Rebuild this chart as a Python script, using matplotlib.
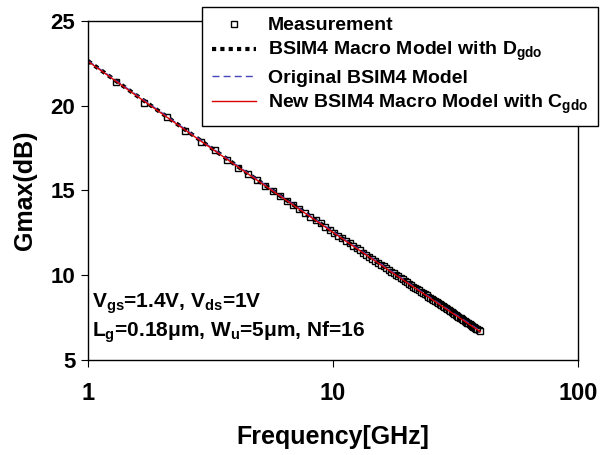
import numpy as np
import matplotlib
matplotlib.use('Agg')
import matplotlib.pyplot as plt

plt.rcParams['font.family'] = ['Liberation Sans', 'DejaVu Sans']
plt.rcParams['font.weight'] = 'bold'
plt.rcParams['mathtext.fontset'] = 'custom'
plt.rcParams['mathtext.rm'] = 'Liberation Sans:bold'
plt.rcParams['mathtext.it'] = 'Liberation Sans:bold'
plt.rcParams['mathtext.bf'] = 'Liberation Sans:bold'

# measured sweep (GHz) and Gmax (dB)
f_meas = [1.3, 1.7, 2.1, 2.5, 2.9, 3.3, 3.7, 4.1, 4.5, 4.9, 5.3, 5.7, 6.1, 6.5, 6.9,
          7.3, 7.7, 8.1, 8.5, 8.9, 9.3, 9.7, 10.1, 10.5, 10.9, 11.3, 11.7, 12.1, 12.5,
          12.9, 13.3, 13.7, 14.1, 14.5, 14.9, 15.3, 15.7, 16.1, 16.5, 16.9, 17.3, 17.7,
          18.1, 18.5, 18.9, 19.3, 19.7, 20.1, 20.5, 20.9, 21.3, 21.7, 22.1, 22.5, 22.9,
          23.3, 23.7, 24.1, 24.5, 24.9, 25.3, 25.7, 26.1, 26.5, 26.9, 27.3, 27.7, 28.1,
          28.5, 28.9, 29.3, 29.7, 30.1, 30.5, 30.9, 31.3, 31.7, 32.1, 32.5, 32.9, 33.3,
          33.7, 34.1, 34.5, 34.9, 35.3, 35.7, 36.1, 36.5, 36.9, 37.3, 37.7, 38.1, 38.5,
          38.9, 39.3, 39.7]
g_meas = [21.40, 20.18, 19.34, 18.50, 17.85, 17.36, 16.80, 16.35, 15.95, 15.60, 15.27,
          14.95, 14.66, 14.40, 14.13, 13.90, 13.66, 13.45, 13.24, 13.05, 12.85, 12.68,
          12.50, 12.34, 12.18, 12.03, 11.88, 11.73, 11.60, 11.46, 11.33, 11.20, 11.08,
          10.96, 10.85, 10.73, 10.62, 10.52, 10.41, 10.31, 10.21, 10.11, 10.02, 9.93,
          9.83, 9.75, 9.66, 9.57, 9.49, 9.41, 9.33, 9.25, 9.17, 9.10, 9.02, 8.95, 8.88,
          8.81, 8.74, 8.67, 8.60, 8.54, 8.47, 8.41, 8.34, 8.28, 8.22, 8.16, 8.10, 8.04,
          7.98, 7.93, 7.87, 7.81, 7.76, 7.71, 7.65, 7.60, 7.55, 7.50, 7.45, 7.40, 7.35,
          7.30, 7.25, 7.20, 7.15, 7.11, 7.06, 7.02, 6.97, 6.93, 6.88, 6.84, 6.80, 6.75,
          6.71]

# simulated curves
f_sim = [1, 1.5, 2, 3, 4, 5, 6, 8, 10, 12, 15, 20, 25, 30, 35, 40]
g_dgdo = [22.64, 20.83, 19.56, 17.77, 16.51, 15.54, 14.75, 13.51, 12.55, 11.77,
          10.82, 9.59, 8.65, 7.88, 7.24, 6.68]
g_orig = [22.66, 20.86, 19.59, 17.80, 16.54, 15.57, 14.78, 13.54, 12.58, 11.80,
          10.85, 9.62, 8.68, 7.91, 7.27, 6.71]
g_cgdo = [22.62, 20.81, 19.54, 17.75, 16.49, 15.52, 14.73, 13.49, 12.53, 11.75,
          10.80, 9.57, 8.63, 7.86, 7.22, 6.66]

labels = ['Measurement',
          r'BSIM4 Macro Model with D$_{\mathbf{gdo}}$',
          'Original BSIM4 Model',
          r'New BSIM4 Macro Model with C$_{\mathbf{gdo}}$']

fig = plt.figure(figsize=(6.02, 4.55), dpi=100)
ax = fig.add_axes([0.146, 0.209, 0.814, 0.745])

h0, = ax.plot(f_meas, g_meas, 's', mfc='white', mec='black', ms=5, mew=1.0,
              linestyle='none')
h1, = ax.plot(f_sim, g_dgdo, color='black', lw=3.0, linestyle=(0, (1, 1)))
h2, = ax.plot(f_sim, g_orig, color='#4444bb', lw=1.0, linestyle=(0, (5, 3)))
h3, = ax.plot(f_sim, g_cgdo, color='#dd0000', lw=1.0)

ax.set_xscale('log')
ax.set_xlim(1, 100)
ax.set_ylim(5, 25)
ax.set_xticks([1, 10, 100])
ax.set_xticklabels(['1', '10', '100'])
ax.xaxis.set_minor_locator(matplotlib.ticker.NullLocator())
ax.set_yticks([5, 10, 15, 20, 25])
ax.tick_params(axis='x', labelsize=17, direction='out', length=5, pad=11)
ax.tick_params(axis='y', labelsize=16, direction='out', length=5, pad=4)
for s in ax.spines.values():
    s.set_linewidth(1.0)

ax.set_xlabel('Frequency[GHz]', fontsize=18, fontweight='bold', labelpad=14)
ax.set_ylabel('Gmax(dB)', fontsize=18, fontweight='bold', labelpad=10)

ax.text(0.008, 0.153, r'V$_{\mathrm{gs}}$=1.4V, V$_{\mathrm{ds}}$=1V',
        transform=ax.transAxes, fontsize=15, fontweight='bold', va='baseline')
ax.text(0.008, 0.068, r'L$_{\mathrm{g}}$=0.18μm, W$_{\mathrm{u}}$=5μm, Nf=16',
        transform=ax.transAxes, fontsize=15, fontweight='bold', va='baseline')

leg = fig.legend([h0, h1, h2, h3], labels, loc='upper left',
                 bbox_to_anchor=(202 / 602, 1 - 7 / 455), fontsize=14,
                 frameon=True, fancybox=False, framealpha=1, edgecolor='black',
                 handlelength=2.3, handletextpad=0.6, labelspacing=0.3,
                 borderpad=0.5, borderaxespad=0)
leg.get_frame().set_linewidth(1.0)

fig.savefig('out.png', dpi=100)
